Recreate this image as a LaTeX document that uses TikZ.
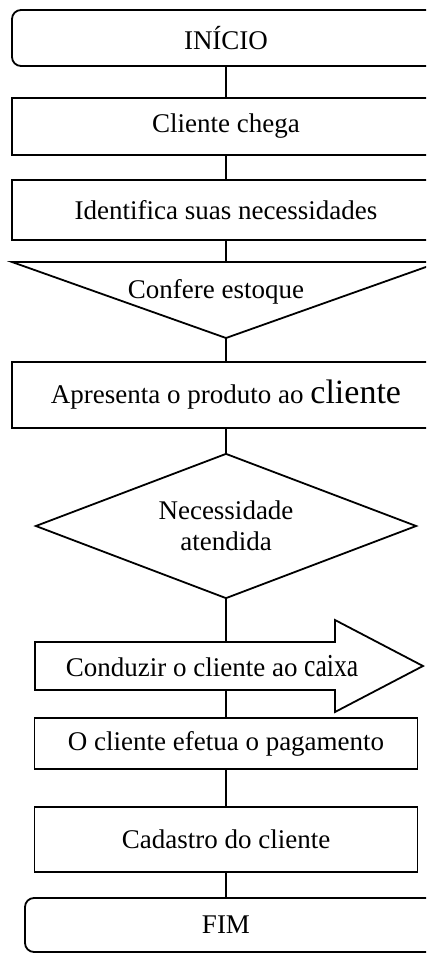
\documentclass[tikz,border=0pt]{standalone}
\usepackage{fontspec}
\usepackage{graphicx}
\setmainfont{Liberation Serif}
\usetikzlibrary{shapes.geometric,calc}

\begin{document}
\begin{tikzpicture}[
  x=1pt, y=-1pt, line width=1.8pt,
  font=\fontsize{27}{31}\selectfont,
  terminal/.style={draw, rounded corners=9pt, minimum height=56pt, inner sep=2pt},
  stepbox/.style={draw, inner sep=2pt},
  decision/.style={draw, diamond, aspect=2.6, minimum width=381pt, minimum height=145pt, inner sep=0pt, align=center},
  lbl/.style={inner sep=1pt},
  link/.style={line width=1.8pt}
]
\useasboundingbox (0,0) rectangle (426,953);
\clip (0,0) rectangle (426,953);
% parte de cima: inicio e duas caixas largas, cortadas na borda direita
\node[terminal, minimum width=428pt] (inicio) at (226,38) {INÍCIO};
\node[stepbox, minimum width=428pt, minimum height=57pt] (chega) at (226,126.5) {Cliente chega};
\node[stepbox, minimum width=428pt, minimum height=60pt] (ident) at (226,210) {Identifica suas necessidades};
% triangulo invertido
\coordinate (triNW) at (12,262);
\coordinate (triNE) at (440,262);
\coordinate (triS) at (226,338);
\draw (triNW) -- (triNE) -- (triS) -- cycle;
\node[lbl] (estoque) at (216,292) {Confere estoque};
\node[stepbox, minimum width=428pt, minimum height=66pt] (apresenta) at (226,395) {Apresenta o produto ao {\fontsize{34}{36}\selectfont cliente}};
\node[decision] (necess) at (226,526) {Necessidade\\atendida};
% seta larga para a direita
\coordinate (seta) at (35,666);
\coordinate (setaN) at ($(seta)+(0,-24)$);
\coordinate (setaS) at ($(seta)+(0,24)$);
\draw (setaN) -- ++(300,0) -- ++(0,-22) -- ++(88,46) -- ++(-88,46) -- ++(0,-22) -- (setaS) -- cycle;
\node[lbl] (conduzir) at (212,666) {Conduzir o cliente ao \scalebox{0.8}[1]{\fontsize{32}{34}\selectfont caixa}};
% parte de baixo: caixas estreitas e fim (fim cortado na borda direita)
\node[stepbox, minimum width=383pt, minimum height=51pt] (pagamento) at (226,743.5) {O cliente efetua o pagamento};
\node[stepbox, minimum width=383pt, minimum height=65pt] (cadastro) at (226,839.5) {Cadastro do cliente};
\node[terminal, minimum width=430pt, minimum height=54pt, text depth=0pt] (fim) at (240,925) {\hspace*{-28pt}FIM};
% ligacoes verticais
\draw[link] (inicio.south) -- (chega.north);
\draw[link] (chega.south) -- (ident.north);
\draw[link] (ident.south) -- (ident.south |- triNW);
\draw[link] (triS) -- (apresenta.north);
\draw[link] (apresenta.south) -- (necess.north);
\draw[link] (necess.south) -- (necess.south |- setaN);
\draw[link] (pagamento.north |- setaS) -- (pagamento.north);
\draw[link] (pagamento.south) -- (cadastro.north);
\draw[link] (cadastro.south) -- (cadastro.south |- fim.north);
\end{tikzpicture}
\end{document}
